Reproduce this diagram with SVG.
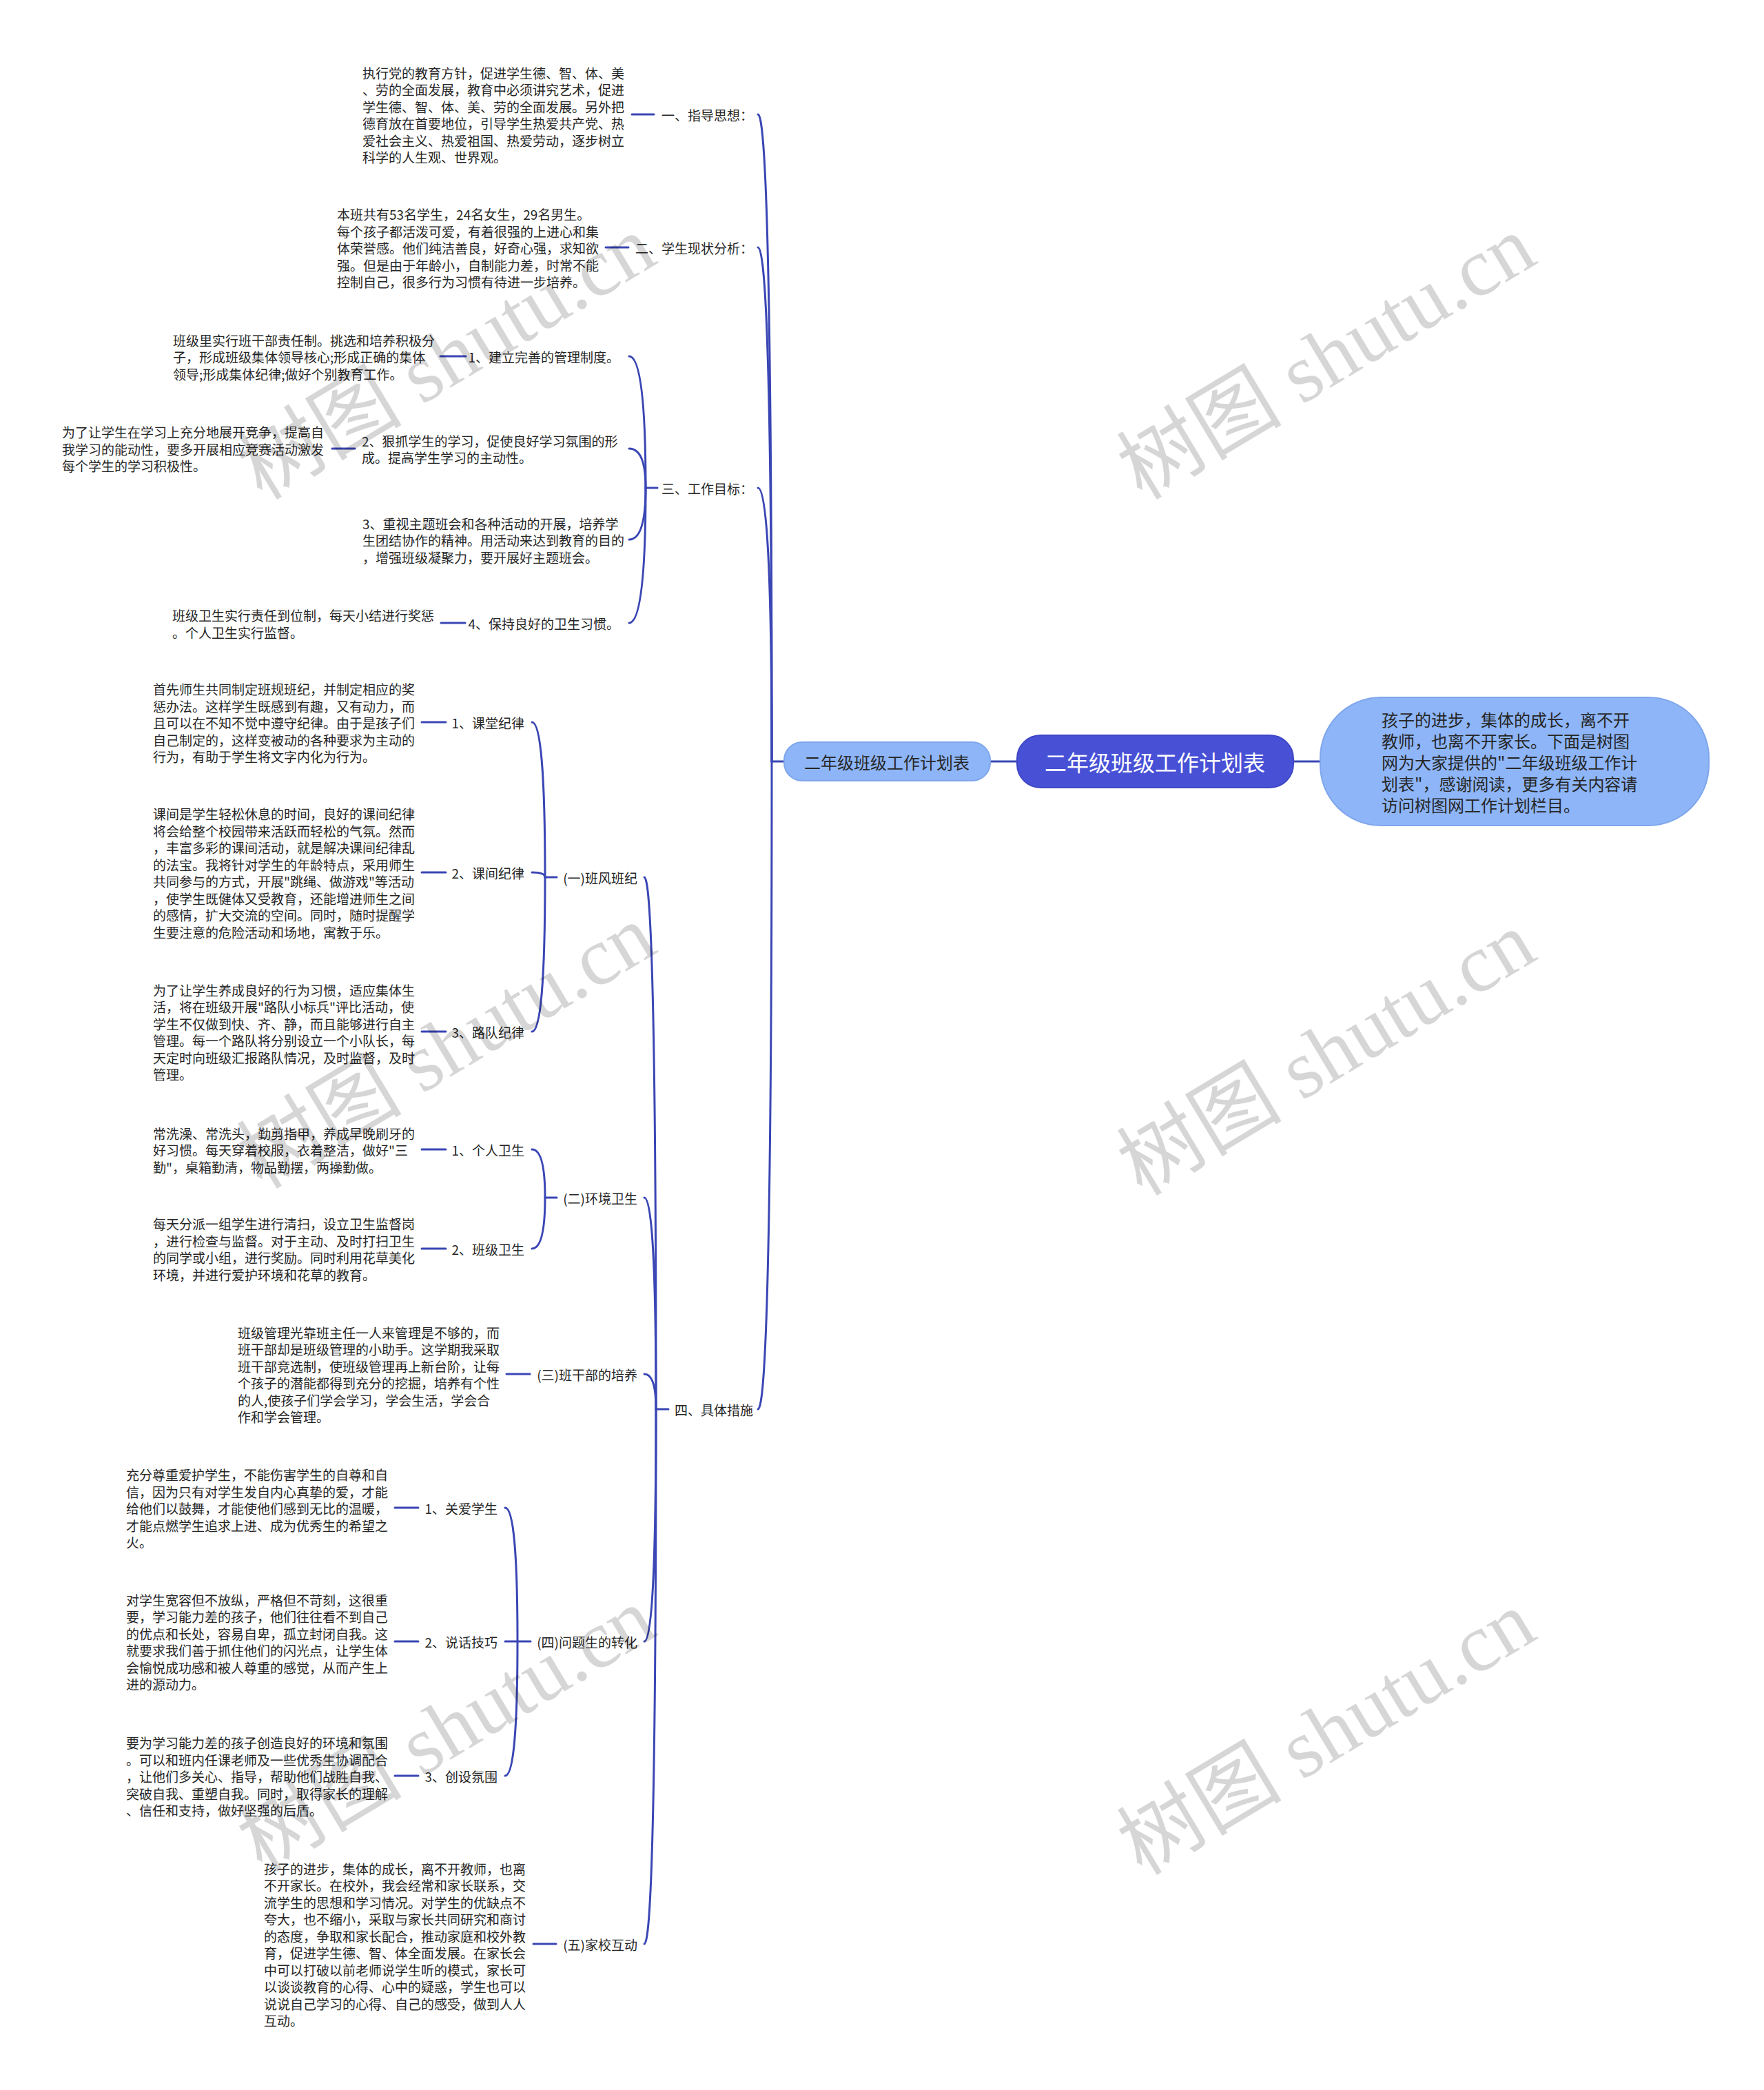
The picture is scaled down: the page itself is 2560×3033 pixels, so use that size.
<svg xmlns="http://www.w3.org/2000/svg" width="2560" height="3033" viewBox="0 0 2560 3033">
<style>
.t{font-family:"Noto Sans CJK SC","Noto Sans",sans-serif;font-size:19px;fill:#262626;dominant-baseline:central}
.e{text-anchor:end}
.c{fill:none;stroke:#3A46B4;stroke-width:3;stroke-linecap:round}
.wm{font-family:"Liberation Serif","Noto Sans CJK SC",serif;font-size:120px;fill:#000;fill-opacity:0.16;text-anchor:middle;dominant-baseline:central}
</style>
<rect width="2560" height="3033" fill="#ffffff"/>
<g id="connectors">
<path class="c" d="M1138 1105H1120"/>
<path class="c" d="M1120 1105Q1120 166 1100 166"/>
<path class="c" d="M1120 1105Q1120 359 1100 359"/>
<path class="c" d="M1120 1105Q1120 708 1100 708"/>
<path class="c" d="M1120 1105Q1120 2045 1100 2045"/>
<path class="c" d="M917 166H949"/>
<path class="c" d="M879 359H912"/>
<path class="c" d="M954 708H937"/>
<path class="c" d="M937 708Q937 517 913 517"/>
<path class="c" d="M937 708Q937 651 913 651"/>
<path class="c" d="M937 708Q937 783 913 783"/>
<path class="c" d="M937 708Q937 904 913 904"/>
<path class="c" d="M639 517H676"/>
<path class="c" d="M482 651H515"/>
<path class="c" d="M640 904H675"/>
<path class="c" d="M970 2045H952"/>
<path class="c" d="M952 2045Q952 1273 935 1273"/>
<path class="c" d="M952 2045Q952 1738 935 1738"/>
<path class="c" d="M952 2045Q952 1994 935 1994"/>
<path class="c" d="M952 2045Q952 2382 935 2382"/>
<path class="c" d="M952 2045Q952 2821 935 2821"/>
<path class="c" d="M808 1273H791"/>
<path class="c" d="M791 1273Q791 1048 772 1048"/>
<path class="c" d="M791 1273Q791 1266 772 1266"/>
<path class="c" d="M791 1273Q791 1497 772 1497"/>
<path class="c" d="M612 1048H647"/>
<path class="c" d="M612 1266H647"/>
<path class="c" d="M612 1497H647"/>
<path class="c" d="M808 1738H791"/>
<path class="c" d="M791 1738Q791 1668 772 1668"/>
<path class="c" d="M791 1738Q791 1812 772 1812"/>
<path class="c" d="M612 1668H647"/>
<path class="c" d="M612 1812H647"/>
<path class="c" d="M735 1994H769"/>
<path class="c" d="M770 2382H751"/>
<path class="c" d="M751 2382Q751 2188 733 2188"/>
<path class="c" d="M751 2382H733"/>
<path class="c" d="M751 2382Q751 2577 733 2577"/>
<path class="c" d="M573 2188H607"/>
<path class="c" d="M573 2382H607"/>
<path class="c" d="M573 2577H607"/>
<path class="c" d="M774 2821H807"/>
<path class="c" d="M1437 1105H1476"/>
<path class="c" d="M1877 1105H1916"/>
</g>
<g id="root">
<rect x="1476" y="1067" width="401" height="76" rx="34" fill="#4851D6" stroke="#3E47C4" stroke-width="2"/>
<text class="t" x="1676" y="1105" style="font-size:32px;fill:#ffffff;text-anchor:middle">二年级班级工作计划表</text>
</g>
<g id="summary">
<rect x="1916" y="1012" width="564" height="186" rx="88" fill="#8DB5F7" stroke="#7FA6EC" stroke-width="2"/>
<text class="t" style="font-size:24px"><tspan x="2005" y="1043">孩子的进步，集体的成长，离不开</tspan><tspan x="2005" y="1074">教师，也离不开家长。下面是树图</tspan><tspan x="2005" y="1105">网为大家提供的"二年级班级工作计</tspan><tspan x="2005" y="1136">划表"，感谢阅读，更多有关内容请</tspan><tspan x="2005" y="1167">访问树图网工作计划栏目。</tspan></text>
</g>
<g id="branch">
<rect x="1138" y="1077" width="299" height="56" rx="26" fill="#8DB5F7" stroke="#7FA6EC" stroke-width="2"/>
<text class="t" x="1287" y="1105" style="font-size:24px;text-anchor:middle">二年级班级工作计划表</text>
</g>
<g id="n1">
<text class="t e" x="1093" y="166">一、指导思想：</text>
<text class="t"><tspan x="526" y="104.5">执行党的教育方针，促进学生德、智、体、美</tspan><tspan x="526" y="129">、劳的全面发展，教育中必须讲究艺术，促进</tspan><tspan x="526" y="153.5">学生德、智、体、美、劳的全面发展。另外把</tspan><tspan x="526" y="178">德育放在首要地位，引导学生热爱共产党、热</tspan><tspan x="526" y="202.5">爱社会主义、热爱祖国、热爱劳动，逐步树立</tspan><tspan x="526" y="227">科学的人生观、世界观。</tspan></text>
</g>
<g id="n2">
<text class="t e" x="1093" y="359">二、学生现状分析：</text>
<text class="t"><tspan x="489" y="310">本班共有53名学生，24名女生，29名男生。</tspan><tspan x="489" y="334.5">每个孩子都活泼可爱，有着很强的上进心和集</tspan><tspan x="489" y="359">体荣誉感。他们纯洁善良，好奇心强，求知欲</tspan><tspan x="489" y="383.5">强。但是由于年龄小，自制能力差，时常不能</tspan><tspan x="489" y="408">控制自己，很多行为习惯有待进一步培养。</tspan></text>
</g>
<g id="n3">
<text class="t e" x="1093" y="708">三、工作目标：</text>
</g>
<g id="n3-1">
<text class="t e" x="899" y="517">1、建立完善的管理制度。</text>
<text class="t"><tspan x="251" y="492.5">班级里实行班干部责任制。挑选和培养积极分</tspan><tspan x="251" y="517">子，形成班级集体领导核心;形成正确的集体</tspan><tspan x="251" y="541.5">领导;形成集体纪律;做好个别教育工作。</tspan></text>
</g>
<g id="n3-2">
<text class="t"><tspan x="525" y="638.75">2、狠抓学生的学习，促使良好学习氛围的形</tspan><tspan x="525" y="663.25">成。提高学生学习的主动性。</tspan></text>
<text class="t"><tspan x="90" y="626">为了让学生在学习上充分地展开竞争，提高自</tspan><tspan x="90" y="650.5">我学习的能动性，要多开展相应竞赛活动激发</tspan><tspan x="90" y="675">每个学生的学习积极性。</tspan></text>
</g>
<g id="n3-3">
<text class="t"><tspan x="526" y="758.5">3、重视主题班会和各种活动的开展，培养学</tspan><tspan x="526" y="783">生团结协作的精神。用活动来达到教育的目的</tspan><tspan x="526" y="807.5">，增强班级凝聚力，要开展好主题班会。</tspan></text>
</g>
<g id="n3-4">
<text class="t e" x="899" y="904">4、保持良好的卫生习惯。</text>
<text class="t"><tspan x="250" y="892">班级卫生实行责任到位制，每天小结进行奖惩</tspan><tspan x="250" y="916.5">。个人卫生实行监督。</tspan></text>
</g>
<g id="n4">
<text class="t e" x="1093" y="2045">四、具体措施</text>
</g>
<g id="n4-1">
<text class="t e" x="925" y="1273">(一)班风班纪</text>
</g>
<g id="n4-1-1">
<text class="t e" x="761" y="1048">1、课堂纪律</text>
<text class="t"><tspan x="222" y="999">首先师生共同制定班规班纪，并制定相应的奖</tspan><tspan x="222" y="1023.5">惩办法。这样学生既感到有趣，又有动力，而</tspan><tspan x="222" y="1048">且可以在不知不觉中遵守纪律。由于是孩子们</tspan><tspan x="222" y="1072.5">自己制定的，这样变被动的各种要求为主动的</tspan><tspan x="222" y="1097">行为，有助于学生将文字内化为行为。</tspan></text>
</g>
<g id="n4-1-2">
<text class="t e" x="761" y="1266">2、课间纪律</text>
<text class="t"><tspan x="222" y="1180.25">课间是学生轻松休息的时间，良好的课间纪律</tspan><tspan x="222" y="1204.75">将会给整个校园带来活跃而轻松的气氛。然而</tspan><tspan x="222" y="1229.25">，丰富多彩的课间活动，就是解决课间纪律乱</tspan><tspan x="222" y="1253.75">的法宝。我将针对学生的年龄特点，采用师生</tspan><tspan x="222" y="1278.25">共同参与的方式，开展"跳绳、做游戏"等活动</tspan><tspan x="222" y="1302.75">，使学生既健体又受教育，还能增进师生之间</tspan><tspan x="222" y="1327.25">的感情，扩大交流的空间。同时，随时提醒学</tspan><tspan x="222" y="1351.75">生要注意的危险活动和场地，寓教于乐。</tspan></text>
</g>
<g id="n4-1-3">
<text class="t e" x="761" y="1497">3、路队纪律</text>
<text class="t"><tspan x="222" y="1435.75">为了让学生养成良好的行为习惯，适应集体生</tspan><tspan x="222" y="1460.25">活，将在班级开展"路队小标兵"评比活动，使</tspan><tspan x="222" y="1484.75">学生不仅做到快、齐、静，而且能够进行自主</tspan><tspan x="222" y="1509.25">管理。每一个路队将分别设立一个小队长，每</tspan><tspan x="222" y="1533.75">天定时向班级汇报路队情况，及时监督，及时</tspan><tspan x="222" y="1558.25">管理。</tspan></text>
</g>
<g id="n4-2">
<text class="t e" x="925" y="1738">(二)环境卫生</text>
</g>
<g id="n4-2-1">
<text class="t e" x="761" y="1668">1、个人卫生</text>
<text class="t"><tspan x="222" y="1643.5">常洗澡、常洗头，勤剪指甲，养成早晚刷牙的</tspan><tspan x="222" y="1668">好习惯。每天穿着校服，衣着整洁，做好"三</tspan><tspan x="222" y="1692.5">勤"，桌箱勤清，物品勤摆，两操勤做。</tspan></text>
</g>
<g id="n4-2-2">
<text class="t e" x="761" y="1812">2、班级卫生</text>
<text class="t"><tspan x="222" y="1775.25">每天分派一组学生进行清扫，设立卫生监督岗</tspan><tspan x="222" y="1799.75">，进行检查与监督。对于主动、及时打扫卫生</tspan><tspan x="222" y="1824.25">的同学或小组，进行奖励。同时利用花草美化</tspan><tspan x="222" y="1848.75">环境，并进行爱护环境和花草的教育。</tspan></text>
</g>
<g id="n4-3">
<text class="t e" x="925" y="1994">(三)班干部的培养</text>
<text class="t"><tspan x="345" y="1932.75">班级管理光靠班主任一人来管理是不够的，而</tspan><tspan x="345" y="1957.25">班干部却是班级管理的小助手。这学期我采取</tspan><tspan x="345" y="1981.75">班干部竞选制，使班级管理再上新台阶，让每</tspan><tspan x="345" y="2006.25">个孩子的潜能都得到充分的挖掘，培养有个性</tspan><tspan x="345" y="2030.75">的人,使孩子们学会学习，学会生活，学会合</tspan><tspan x="345" y="2055.25">作和学会管理。</tspan></text>
</g>
<g id="n4-4">
<text class="t e" x="925" y="2382">(四)问题生的转化</text>
</g>
<g id="n4-4-1">
<text class="t e" x="722" y="2188">1、关爱学生</text>
<text class="t"><tspan x="183" y="2139">充分尊重爱护学生，不能伤害学生的自尊和自</tspan><tspan x="183" y="2163.5">信，因为只有对学生发自内心真挚的爱，才能</tspan><tspan x="183" y="2188">给他们以鼓舞，才能使他们感到无比的温暖，</tspan><tspan x="183" y="2212.5">才能点燃学生追求上进、成为优秀生的希望之</tspan><tspan x="183" y="2237">火。</tspan></text>
</g>
<g id="n4-4-2">
<text class="t e" x="722" y="2382">2、说话技巧</text>
<text class="t"><tspan x="183" y="2320.75">对学生宽容但不放纵，严格但不苛刻，这很重</tspan><tspan x="183" y="2345.25">要，学习能力差的孩子，他们往往看不到自己</tspan><tspan x="183" y="2369.75">的优点和长处，容易自卑，孤立封闭自我。这</tspan><tspan x="183" y="2394.25">就要求我们善于抓住他们的闪光点，让学生体</tspan><tspan x="183" y="2418.75">会愉悦成功感和被人尊重的感觉，从而产生上</tspan><tspan x="183" y="2443.25">进的源动力。</tspan></text>
</g>
<g id="n4-4-3">
<text class="t e" x="722" y="2577">3、创设氛围</text>
<text class="t"><tspan x="183" y="2528">要为学习能力差的孩子创造良好的环境和氛围</tspan><tspan x="183" y="2552.5">。可以和班内任课老师及一些优秀生协调配合</tspan><tspan x="183" y="2577">，让他们多关心、指导，帮助他们战胜自我、</tspan><tspan x="183" y="2601.5">突破自我、重塑自我。同时，取得家长的理解</tspan><tspan x="183" y="2626">、信任和支持，做好坚强的后盾。</tspan></text>
</g>
<g id="n4-5">
<text class="t e" x="925" y="2821">(五)家校互动</text>
<text class="t"><tspan x="383" y="2710.75">孩子的进步，集体的成长，离不开教师，也离</tspan><tspan x="383" y="2735.25">不开家长。在校外，我会经常和家长联系，交</tspan><tspan x="383" y="2759.75">流学生的思想和学习情况。对学生的优缺点不</tspan><tspan x="383" y="2784.25">夸大，也不缩小，采取与家长共同研究和商讨</tspan><tspan x="383" y="2808.75">的态度，争取和家长配合，推动家庭和校外教</tspan><tspan x="383" y="2833.25">育，促进学生德、智、体全面发展。在家长会</tspan><tspan x="383" y="2857.75">中可以打破以前老师说学生听的模式，家长可</tspan><tspan x="383" y="2882.25">以谈谈教育的心得、心中的疑惑，学生也可以</tspan><tspan x="383" y="2906.75">说说自己学习的心得、自己的感受，做到人人</tspan><tspan x="383" y="2931.25">互动。</tspan></text>
</g>
<g id="watermarks">
<text class="wm" transform="translate(648 519) rotate(-31)">树图 shutu.cn</text>
<text class="wm" transform="translate(648 1519) rotate(-31)">树图 shutu.cn</text>
<text class="wm" transform="translate(648 2510) rotate(-31)">树图 shutu.cn</text>
<text class="wm" transform="translate(1925 519) rotate(-31)">树图 shutu.cn</text>
<text class="wm" transform="translate(1925 1529) rotate(-31)">树图 shutu.cn</text>
<text class="wm" transform="translate(1925 2515) rotate(-31)">树图 shutu.cn</text>
</g>
</svg>
